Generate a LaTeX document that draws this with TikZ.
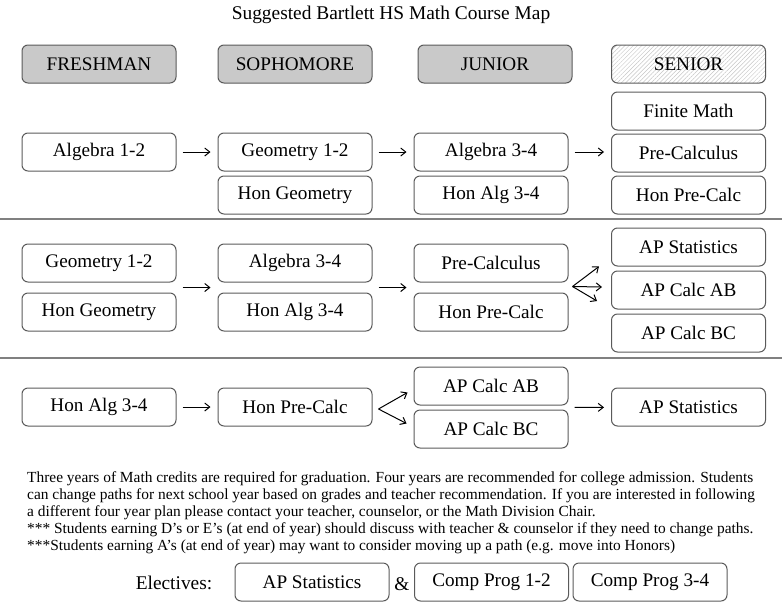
\documentclass[tikz,border=0pt]{standalone}
\usepackage{fontspec}
\setmainfont{Liberation Serif}
\usetikzlibrary{positioning,calc,arrows.meta,patterns.meta}
\definecolor{boxgray}{HTML}{5A5A5A}
\definecolor{hdrgray}{HTML}{C9C9C9}
\definecolor{rulegray}{HTML}{808080}
\tikzset{
  course/.style={draw=boxgray, line width=1pt, rounded corners=6pt,
    minimum width=154pt, minimum height=38pt, inner sep=0pt,
    font=\fontsize{19.2}{22}\selectfont},
  yearbox/.style={course, fill=hdrgray},
  arr/.style={-{Straight Barb[length=5pt,width=8pt]}, line width=1pt,
    shorten <=6pt, shorten >=7pt},
  fan/.style={-{Straight Barb[length=5pt,width=8pt]}, line width=1pt},
  divider/.style={draw=rulegray, line width=1.5pt}
}
\begin{document}
\begin{tikzpicture}[x=1pt,y=-1pt]
  \useasboundingbox (0,0) rectangle (782,611);
  \node[font=\fontsize{19.4}{22}\selectfont] (title) at (391,15) {Suggested Bartlett HS Math Course Map};

  \node[yearbox] (fresh) at (99,64) {FRESHMAN};
  \node[yearbox] (soph) at (295,64) {SOPHOMORE};
  \node[yearbox] (jun) at (495,64) {JUNIOR};
  \node[course, pattern={Lines[angle=45,distance=3pt,line width=.5pt]},
    pattern color=gray!45] (sen) at (688.5,64) {SENIOR};

  % path 1
  \node[course] (fin1) at (688.5,111) {Finite Math};
  \node[course, below=3pt of fin1] (pc1) {Pre-Calculus};
  \node[course, below=3pt of pc1] (hpc1) {Hon Pre-Calc};
  \node[course] (alg1) at (99,152) {Algebra 1-2};
  \node[course] (geo1) at (295,152) {Geometry 1-2};
  \node[course, below=4pt of geo1] (hgeo1) {Hon Geometry};
  \node[course] (algb1) at (491,152) {Algebra 3-4};
  \node[course, below=4pt of algb1] (halg1) {Hon Alg 3-4};
  \draw[arr] (alg1) -- (geo1);
  \draw[arr] (geo1) -- (algb1);
  \draw[arr] (algb1) -- (algb1 -| pc1.west);

  \coordinate (rulea) at (0,219);
  \coordinate (ruleb) at (782,219);
  \draw[divider] (rulea) -- (ruleb);

  % path 2
  \node[course] (aps2) at (688.5,247) {AP Statistics};
  \node[course, below=4pt of aps2] (ab2) {AP Calc AB};
  \node[course, below=4pt of ab2] (bc2) {AP Calc BC};
  \node[course] (geo2) at (99,263) {Geometry 1-2};
  \node[course, below=10pt of geo2] (hgeo2) {Hon Geometry};
  \node[course] (alg2) at (295,263) {Algebra 3-4};
  \node[course, below=10pt of alg2] (halg2) {Hon Alg 3-4};
  \node[course] (pc2) at (491,263) {Pre-Calculus};
  \node[course, below=10pt of pc2] (hpc2) {Hon Pre-Calc};
  \draw[arr] ($(geo2.south east)!.5!(hgeo2.north east)$) -- ($(alg2.south west)!.5!(halg2.north west)$);
  \draw[arr] ($(alg2.south east)!.5!(halg2.north east)$) -- ($(pc2.south west)!.5!(hpc2.north west)$);
  \coordinate (fan2) at ($(pc2.south east)!.5!(hpc2.north east)+(4,-1)$);
  \coordinate (fan2a) at ($(aps2.south west)+(-12,0)$);
  \coordinate (fan2b) at ($(ab2.west)+(-9,-3)$);
  \coordinate (fan2c) at ($(ab2.west)+(-14,11)$);
  \draw[fan] (fan2) -- (fan2a);
  \draw[fan] (fan2) -- (fan2b);
  \draw[fan] (fan2) -- (fan2c);

  \coordinate (rulec) at (0,358);
  \coordinate (ruled) at (782,358);
  \draw[divider] (rulec) -- (ruled);

  % path 3
  \node[course] (halg3) at (99,407) {Hon Alg 3-4};
  \node[course] (hpc3) at (295,407) {Hon Pre-Calc};
  \node[course] (ab3) at (491,386) {AP Calc AB};
  \node[course, below=4pt of ab3] (bc3) {AP Calc BC};
  \node[course] (aps3) at (688.5,407) {AP Statistics};
  \draw[arr] (halg3) -- (hpc3);
  \coordinate (fan3) at ($(hpc3.east)+(6,2)$);
  \coordinate (fan3a) at ($(ab3.south west)+(-6,-13)$);
  \coordinate (fan3b) at ($(bc3.north west)+(-7,14)$);
  \draw[fan] (fan3) -- (fan3a);
  \draw[fan] (fan3) -- (fan3b);
  \draw[arr] ($(ab3.south east)!.5!(bc3.north east)$) -- (aps3);

  \node[anchor=north west, inner sep=0pt, align=left,
    font=\fontsize{15.4}{17.2}\selectfont] (notes) at (27,471)
    {Three years of Math credits are required for graduation. Four years are recommended for college admission. Students\\
     can change paths for next school year based on grades and teacher recommendation. If you are interested in following\\
     a different four year plan please contact your teacher, counselor, or the Math Division Chair.\\
     *** Students earning D’s or E’s (at end of year) should discuss with teacher \& counselor if they need to change paths.\\
     ***Students earning A’s (at end of year) may want to consider moving up a path (e.g. move into Honors)};

  \node[font=\fontsize{19.4}{22}\selectfont] (elect) at (174,583) {Electives:};
  \node[course] (el1) at (312,582) {AP Statistics};
  \node[font=\fontsize{19.4}{22}\selectfont] (amp) at (402,584) {\&};
  \node[course] (el2) at (491.5,582) {Comp Prog 1-2};
  \node[course] (el3) at (650,582) {Comp Prog 3-4};
\end{tikzpicture}
\end{document}
